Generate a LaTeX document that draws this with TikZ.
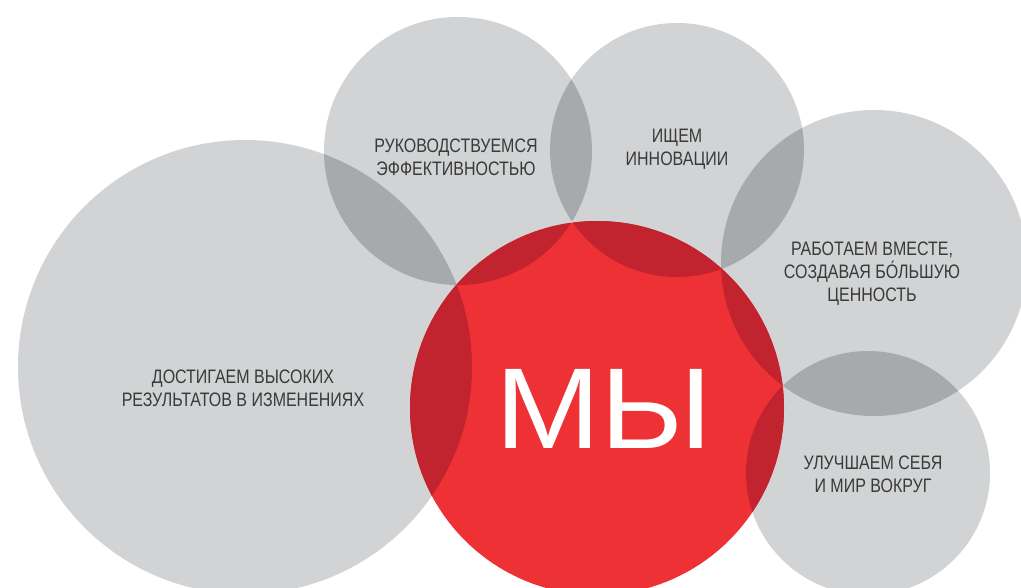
\documentclass[tikz,border=0pt]{standalone}
\usepackage{fontspec}
\setmainfont{Liberation Sans}
\newfontfamily\narrowfont[FakeStretch=0.82]{Liberation Sans}
\newfontfamily\widefont[FakeStretch=1.1]{Liberation Sans}

\definecolor{circlegray}{HTML}{D1D3D4}
\definecolor{lensgray}{HTML}{A7A9AC}
\definecolor{wered}{HTML}{EE3135}
\definecolor{lensred}{HTML}{C1232F}
\definecolor{textgray}{HTML}{3A3A3A}

\tikzset{
  valuetext/.style={font=\narrowfont\fontsize{19.5}{23}\selectfont, text=textgray, align=center, inner sep=0pt},
  wetext/.style={font=\widefont\fontsize{115}{115}\selectfont, text=white, inner sep=0pt}
}

\begin{document}
\begin{tikzpicture}[x=1pt,y=-1pt]

% Picture frame (y runs downwards, 1pt = 1px)
\useasboundingbox (0,0) rectangle (1021,588);
\clip (0,0) rectangle (1021,588);

% Define circle centres
% L is the big circle on the left
% P is the top left circle
% I is the top circle
% R is the circle on the right
% U is the bottom right circle
% M is the red circle in the middle
\coordinate (L) at (245,367);
\coordinate (P) at (458,151);
\coordinate (I) at (677,150);
\coordinate (R) at (874,263);
\coordinate (U) at (868,473);
\coordinate (M) at (597,408);

% Draw the grey circles
\fill[circlegray] (L) circle (227);
\fill[circlegray] (P) circle (134);
\fill[circlegray] (I) circle (127);
\fill[circlegray] (R) circle (153);
\fill[circlegray] (U) circle (122);

% Darker lens where L and P overlap
\begin{scope}
  \clip (L) circle (227);
  \fill[lensgray] (P) circle (134);
\end{scope}

% Darker lens where P and I overlap
\begin{scope}
  \clip (P) circle (134);
  \fill[lensgray] (I) circle (127);
\end{scope}

% Darker lens where I and R overlap
\begin{scope}
  \clip (I) circle (127);
  \fill[lensgray] (R) circle (153);
\end{scope}

% Darker lens where R and U overlap
\begin{scope}
  \clip (R) circle (153);
  \fill[lensgray] (U) circle (122);
\end{scope}

% Draw the red circle
\fill[wered] (M) circle (187);

% Darker red where the red circle covers the grey ones
\begin{scope}
  \clip (M) circle (187);
  \fill[lensred] (L) circle (227) (P) circle (134) (I) circle (127)
    (R) circle (153) (U) circle (122);
\end{scope}

% Label the circles
\node[valuetext] (achieve) at (243,388) {ДОСТИГАЕМ ВЫСОКИХ\\РЕЗУЛЬТАТОВ В ИЗМЕНЕНИЯХ};
\node[valuetext] (guide) at (456,157) {РУКОВОДСТВУЕМСЯ\\ЭФФЕКТИВНОСТЬЮ};
\node[valuetext] (seek) at (677,149) {ИЩЕМ\\ИННОВАЦИИ};
\node[valuetext] (together) at (872,274) {РАБОТАЕМ ВМЕСТЕ,\\СОЗДАВАЯ БО́ЛЬШУЮ\\ЦЕННОСТЬ};
\node[valuetext] (improve) at (873,474) {УЛУЧШАЕМ СЕБЯ\\И МИР ВОКРУГ};

% Label the red circle
\node[wetext] (we) at (604,409) {МЫ};

\end{tikzpicture}
\end{document}
